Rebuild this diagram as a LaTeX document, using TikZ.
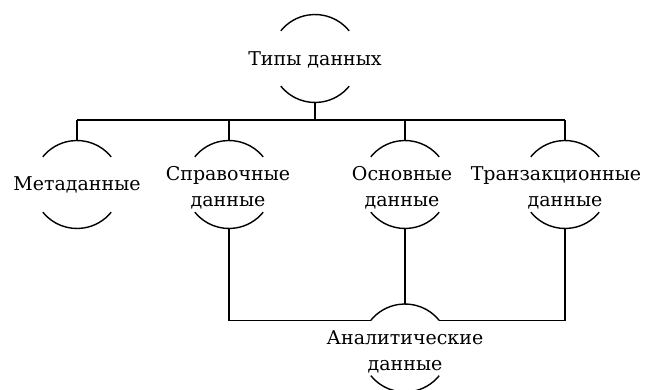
\documentclass[tikz,border=0pt]{standalone}
\usepackage{fontspec}
\setmainfont{DejaVu Serif}
\begin{document}
\begin{tikzpicture}[x=1pt,y=1pt,
  blob/.style={circle,minimum size=88pt,inner sep=0pt,outer sep=0pt,draw=none},
  lbl/.style={font=\fontsize{19}{26}\selectfont,align=center,inner sep=0pt},
  ln/.style={line width=1.6pt},
  arcln/.style={line width=1.4pt}]
\useasboundingbox (0,0) rectangle (646,-390);
% circles
\node[blob] (top) at (315,-58.5) {};
\node[blob] (meta) at (77,-184.5) {};
\node[blob] (sprav) at (229,-184.5) {};
\node[blob] (osn) at (405,-184.5) {};
\node[blob] (tranz) at (565,-184.5) {};
\node[blob] (anal) at (405,-348) {};
% labels
\node[lbl] (tTop) at (315,-59.5) {Типы данных};
\node[lbl] (tMeta) at (77,-185) {Метаданные};
\node[lbl] (tSprav) at (228,-188) {Справочные\\данные};
\node[lbl] (tOsn) at (402,-188) {Основные\\данные};
\node[lbl] (tTranz) at (556,-188) {Транзакционные\\\hspace*{18pt}данные};
\node[lbl] (tAnal) at (405,-352) {Аналитические\\данные};
% arcs
\foreach \n in {top,meta,sprav,osn,tranz,anal}{
  \draw[arcln] (\n.39) arc[start angle=39,end angle=141,radius=44pt];
  \draw[arcln] (\n.219) arc[start angle=219,end angle=321,radius=44pt];
}
% bus
\coordinate (busL) at (77,-120);
\coordinate (busR) at (565,-120);
\draw[ln] (busL) -- (busR);
\draw[ln] (top.south) -- (top.south |- busL);
\foreach \n in {meta,sprav,osn,tranz}{
  \draw[ln] (\n.north) -- (\n.north |- busL);
}
% bottom
\draw[ln] (sprav.south) |- (anal.141);
\draw[ln] (tranz.south) |- (anal.39);
\draw[ln] (osn.south) -- (anal.north);
\end{tikzpicture}
\end{document}
